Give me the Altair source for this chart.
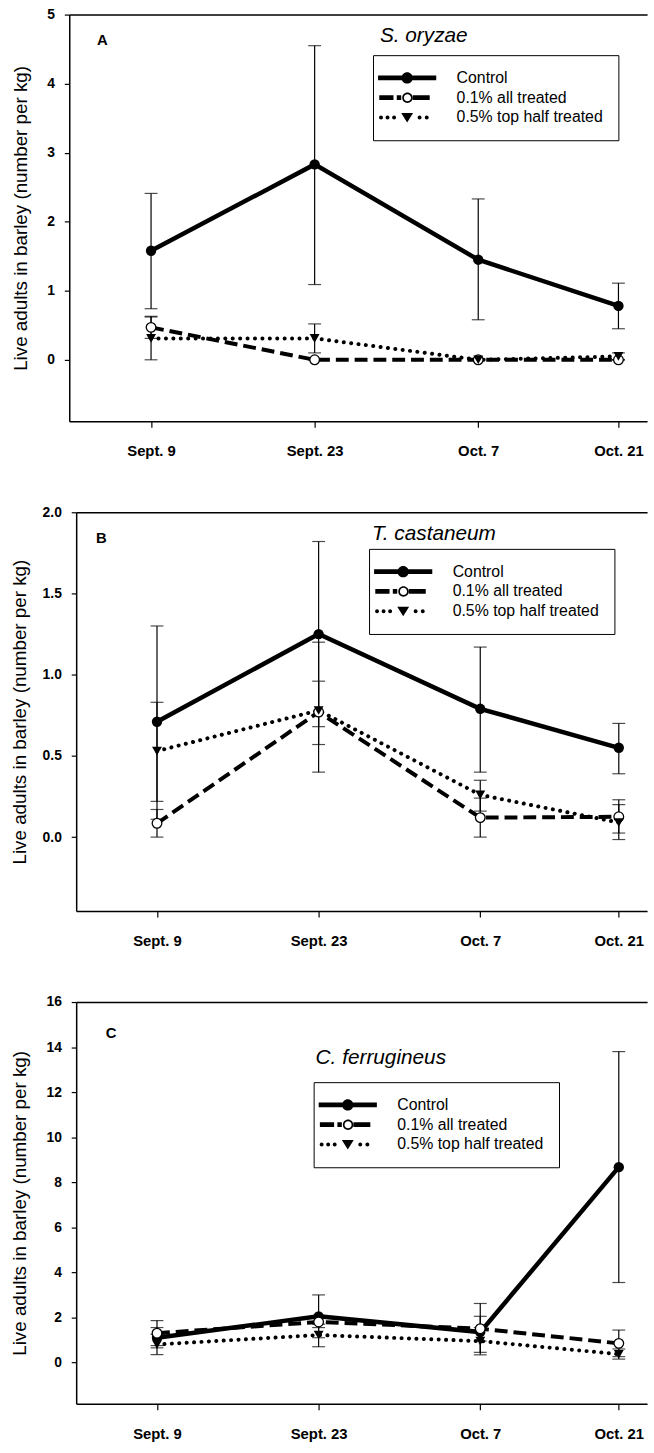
import altair as alt
import pandas as pd

FONT = "Liberation Sans"

# ---------------- data ----------------
dates = ["Sept. 9", "Sept. 23", "Oct. 7", "Oct. 21"]
days = [0, 14, 28, 40]          # x position of each sampling date as drawn in the figure
series = ["Control", "0.1% all treated", "0.5% top half treated"]

# Panel A - S. oryzae
a_control = [1.58, 2.83, 1.45, 0.78]
a_control_lo = [0.74, 1.09, 0.58, 0.45]
a_control_hi = [2.41, 4.55, 2.33, 1.11]
a_t01 = [0.47, 0.0, 0.0, 0.0]
a_t01_lo = [0.31, 0.0, 0.0, 0.0]
a_t01_hi = [0.63, 0.0, 0.0, 0.0]
a_t05 = [0.31, 0.31, 0.0, 0.05]
a_t05_lo = [0.0, 0.10, 0.0, 0.0]
a_t05_hi = [0.62, 0.52, 0.0, 0.10]

# Panel B - T. castaneum
b_control = [0.71, 1.25, 0.79, 0.55]
b_control_lo = [0.11, 0.68, 0.40, 0.39]
b_control_hi = [1.30, 1.82, 1.17, 0.70]
b_t01 = [0.085, 0.77, 0.12, 0.125]
b_t01_lo = [0.0, 0.57, 0.0, 0.025]
b_t01_hi = [0.17, 0.96, 0.24, 0.23]
b_t05 = [0.53, 0.78, 0.26, 0.09]
b_t05_lo = [0.22, 0.40, 0.16, -0.015]
b_t05_hi = [0.83, 1.20, 0.35, 0.20]

# Panel C - C. ferrugineus
c_control = [1.10, 2.05, 1.35, 8.67]
c_control_lo = [0.65, 1.10, 0.45, 3.55]
c_control_hi = [1.55, 3.00, 2.62, 13.80]
c_t01 = [1.30, 1.80, 1.50, 0.85]
c_t01_lo = [0.75, 1.55, 0.95, 0.26]
c_t01_hi = [1.86, 2.05, 2.05, 1.44]
c_t05 = [0.80, 1.22, 0.95, 0.37]
c_t05_lo = [0.35, 0.70, 0.34, 0.15]
c_t05_hi = [1.25, 1.70, 1.55, 0.60]

a_ticks = [0, 1, 2, 3, 4, 5]
b_ticks = [0.0, 0.5, 1.0, 1.5, 2.0]
c_ticks = [0, 2, 4, 6, 8, 10, 12, 14, 16]

Y_TITLE = "Live adults in barley (number per kg)"


def make_df(groups):
    rows = []
    for name, (m, lo, hi) in zip(series, groups):
        for d, lab, mv, l, h in zip(days, dates, m, lo, hi):
            rows.append({"day": d, "date": lab, "series": name, "mean": mv, "lo": l, "hi": h})
    return pd.DataFrame(rows)


df_a = make_df([(a_control, a_control_lo, a_control_hi), (a_t01, a_t01_lo, a_t01_hi), (a_t05, a_t05_lo, a_t05_hi)])
df_b = make_df([(b_control, b_control_lo, b_control_hi), (b_t01, b_t01_lo, b_t01_hi), (b_t05, b_t05_lo, b_t05_hi)])
df_c = make_df([(c_control, c_control_lo, c_control_hi), (c_t01, c_t01_lo, c_t01_hi), (c_t05, c_t05_lo, c_t05_hi)])

label_expr = ""
for d, lab in zip(days, dates):
    label_expr += f"datum.value == {d} ? '{lab}' : "
label_expr += "''"


# ---------------- legend symbols (custom paths, unit = 6 px) ----------------
def rect(x1, x2, h):
    return f"M{x1},{-h}H{x2}V{h}H{x1}Z"


def circle(cx, cy, r, cw=True):
    k = round(0.5523 * r, 4)
    if cw:
        return (f"M{cx + r},{cy}C{cx + r},{cy + k} {cx + k},{cy + r} {cx},{cy + r}"
                f"C{cx - k},{cy + r} {cx - r},{cy + k} {cx - r},{cy}"
                f"C{cx - r},{cy - k} {cx - k},{cy - r} {cx},{cy - r}"
                f"C{cx + k},{cy - r} {cx + r},{cy - k} {cx + r},{cy}Z")
    return (f"M{cx + r},{cy}C{cx + r},{cy - k} {cx + k},{cy - r} {cx},{cy - r}"
            f"C{cx - k},{cy - r} {cx - r},{cy - k} {cx - r},{cy}"
            f"C{cx - r},{cy + k} {cx - k},{cy + r} {cx},{cy + r}"
            f"C{cx + k},{cy + r} {cx + r},{cy + k} {cx + r},{cy}Z")


sym_control = rect(-4.9, 4.9, 0.4) + " " + circle(0, 0, 0.95)
sym_t01 = " ".join([rect(-4.7, -2.3, 0.4), rect(-1.75, -1.0, 0.4),
                    circle(0.05, 0, 0.88), circle(0.05, 0, 0.6, cw=False),
                    rect(0.95, 3.8, 0.4)])
sym_t05 = " ".join([circle(-4.4, 0, 0.33), circle(-3.3, 0, 0.33), circle(-2.2, 0, 0.33),
                    "M-1,-0.75L1,-0.75L0,0.85Z",
                    circle(2.1, 0, 0.33), circle(3.3, 0, 0.33)])
legend_paths = [sym_control, sym_t01, sym_t05]


def panel(df, letter, species, ydom, yvals, yfmt, width, height, extent,
          letter_xy, species_xy, legend_xy, shift=0):
    # shift: how far the y axis sits left of the common plot origin
    xscale = alt.Scale(domain=[-7.0, 42.45], nice=False, zero=False, range=[-shift, width])
    yscale = alt.Scale(domain=ydom, nice=False, zero=False)
    x_bottom = alt.Axis(values=days, labelExpr=label_expr, orient="bottom", title=None,
                        grid=False, tickSize=6, labelPadding=17, labelFontSize=15,
                        labelFontWeight="bold", labelFont=FONT, labelColor="black",
                        tickColor="black", tickWidth=1.2, domainColor="black", domainWidth=1.5)
    x_top = alt.Axis(orient="top", labels=False, ticks=False, grid=False, title=None,
                     domainColor="black", domainWidth=1.5)
    y_axis = alt.Axis(values=yvals, format=yfmt, title=Y_TITLE, grid=False, orient="left",
                      offset=shift,
                      tickSize=5, labelPadding=10, labelFontSize=14, labelFontWeight="bold",
                      labelFont=FONT, labelColor="black", tickColor="black", tickWidth=1.2,
                      domainColor="black", domainWidth=1.5, titleFont=FONT,
                      titleFontSize=19, titleFontWeight="normal", titleColor="black",
                      titlePadding=10, minExtent=extent, maxExtent=extent)

    base = alt.Chart(df)

    def X(ax=None):
        return alt.X("day:Q", scale=xscale, axis=ax)

    def Y(f):
        return alt.Y(f, scale=yscale, axis=y_axis)

    bars = base.mark_rule(color="black", strokeWidth=1.2).encode(
        x=X(x_bottom), y=Y("lo:Q"), y2="hi:Q")
    cap_lo = base.mark_tick(orient="horizontal", size=13, thickness=1.2, color="black").encode(
        x=X(), y=Y("lo:Q"))
    cap_hi = base.mark_tick(orient="horizontal", size=13, thickness=1.2, color="black").encode(
        x=X(), y=Y("hi:Q"))

    line_c = base.transform_filter(alt.datum.series == series[0]).mark_line(
        color="black", strokeWidth=4.5).encode(x=X(x_top), y=Y("mean:Q"))
    line_1 = base.transform_filter(alt.datum.series == series[1]).mark_line(
        color="black", strokeWidth=4, strokeDash=[13, 6]).encode(x=X(), y=Y("mean:Q"))
    line_5 = base.transform_filter(alt.datum.series == series[2]).mark_line(
        color="black", strokeWidth=4, strokeDash=[0.1, 7.4], strokeCap="round").encode(
        x=X(), y=Y("mean:Q"))

    pt_c = base.transform_filter(alt.datum.series == series[0]).mark_point(
        shape="circle", filled=True, color="black", size=110, opacity=1).encode(x=X(), y=Y("mean:Q"))
    pt_1 = base.transform_filter(alt.datum.series == series[1]).mark_point(
        shape="circle", filled=True, fill="white", stroke="black", strokeWidth=1.3,
        size=95, opacity=1).encode(x=X(), y=Y("mean:Q"))
    pt_5 = base.transform_filter(alt.datum.series == series[2]).mark_point(
        shape="triangle-down", filled=True, color="black", size=100, opacity=1).encode(
        x=X(), y=Y("mean:Q"))

    legend = alt.Legend(orient="none", legendX=legend_xy[0], legendY=legend_xy[1], title=None,
                        labelFont=FONT, labelFontSize=16, labelColor="black", labelLimit=300,
                        symbolSize=144, symbolOffset=11.5, labelOffset=42, symbolOpacity=1,
                        symbolFillColor="black", symbolStrokeColor="black", symbolStrokeWidth=0,
                        strokeColor="black", fillColor="white", padding=15, rowPadding=4,
                        cornerRadius=0)
    leg = base.transform_filter("false").mark_point(filled=True, color="black", size=144,
                                                    opacity=1).encode(
        x=X(), y=Y("mean:Q"),
        shape=alt.Shape("series:N", scale=alt.Scale(domain=series, range=legend_paths), legend=legend))

    txt = pd.DataFrame({"letter": [letter], "species": [species]})
    t_letter = alt.Chart(txt).mark_text(align="left", baseline="alphabetic", font=FONT,
                                        fontSize=15, fontWeight="bold", color="black").encode(
        x=alt.value(letter_xy[0]), y=alt.value(letter_xy[1]), text="letter:N")
    t_species = alt.Chart(txt).mark_text(align="left", baseline="alphabetic", font=FONT,
                                         fontSize=21, fontStyle="italic", color="black").encode(
        x=alt.value(species_xy[0]), y=alt.value(species_xy[1]), text="species:N")

    return alt.layer(bars, cap_lo, cap_hi, line_c, line_1, line_5, pt_c, pt_1, pt_5, leg,
                     t_letter, t_species).properties(width=width, height=height).resolve_axis(
        x="independent")


pA = panel(df_a, "A", "S. oryzae", [-0.89, 5], a_ticks, "d", 577, 411, 29,
           (21, 31), (307, 28), (300, 41), shift=7)
pB = panel(df_b, "B", "T. castaneum", [-0.455, 2], b_ticks, ".1f", 577, 403, 37,
           (20, 31), (299, 28), (296, 37))
pC = panel(df_c, "C", "C. ferrugineus", [-1.83, 16], c_ticks, "d", 577, 406, 37,
           (30, 36), (242, 63), (240, 81))

chart = alt.concat(pA, pB, pC, columns=1, spacing=47).resolve_scale(
    shape="independent", y="independent"
).resolve_legend(shape="independent").properties(
    padding={"left": 11, "top": 0, "right": 0, "bottom": 0}, background="white"
).configure_view(strokeWidth=0)

chart.save("out.html", embed_options={"renderer": "svg", "actions": False})
